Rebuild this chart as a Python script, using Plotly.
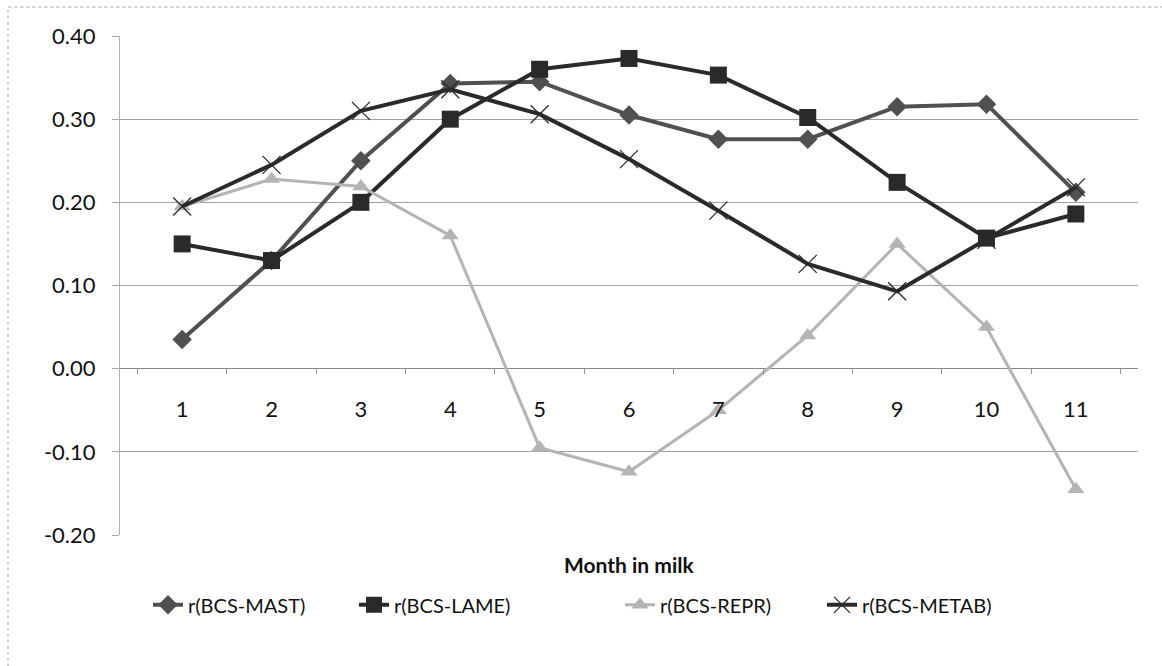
import plotly.graph_objects as go

months = ["1", "2", "3", "4", "5", "6", "7", "8", "9", "10", "11"]
mast = [0.035, 0.130, 0.250, 0.343, 0.345, 0.305, 0.276, 0.276, 0.315, 0.318, 0.212]
lame = [0.150, 0.130, 0.200, 0.300, 0.360, 0.373, 0.353, 0.302, 0.224, 0.157, 0.186]
repr_ = [0.195, 0.228, 0.219, 0.160, -0.095, -0.124, -0.050, 0.040, 0.150, 0.050, -0.145]
metab = [0.195, 0.245, 0.310, 0.336, 0.306, 0.252, 0.190, 0.126, 0.093, 0.155, 0.218]
names = ["r(BCS-MAST)", "r(BCS-LAME)", "r(BCS-REPR)", "r(BCS-METAB)"]
ytickvals = [-0.2, -0.1, 0.0, 0.1, 0.2, 0.3, 0.4]
yticktext = ["-0.20", "-0.10", "0.00", "0.10", "0.20", "0.30", "0.40"]

FONT = "Lato"
fig = go.Figure()
fig.add_trace(go.Scatter(x=months, y=mast, name=names[0], mode="lines+markers",
                         line=dict(color="#505050", width=4),
                         marker=dict(symbol="diamond", size=15, color="#505050"),
                         legend="legend"))
fig.add_trace(go.Scatter(x=months, y=lame, name=names[1], mode="lines+markers",
                         line=dict(color="#2a2a2a", width=4),
                         marker=dict(symbol="square", size=17, color="#2a2a2a"),
                         legend="legend2"))
fig.add_trace(go.Scatter(x=months, y=repr_, name=names[2], mode="lines+markers",
                         line=dict(color="#b4b4b4", width=3),
                         marker=dict(symbol="triangle-up", size=15, color="#b4b4b4"),
                         legend="legend3"))
fig.add_trace(go.Scatter(x=months, y=metab, name=names[3], mode="lines+markers",
                         line=dict(color="#2a2a2a", width=4),
                         marker=dict(symbol="x-thin", size=18,
                                     line=dict(color="#2a2a2a", width=1.3)),
                         legend="legend4"))

def leg(xpx):
    return dict(orientation="h", x=(xpx - 120) / 1018, xanchor="left", y=-0.14,
                yanchor="middle", font=dict(size=20, family=FONT, color="#111"),
                bgcolor="rgba(0,0,0,0)")

fig.update_layout(
    width=1162, height=666,
    margin=dict(l=120, r=24, t=36, b=131),
    paper_bgcolor="white", plot_bgcolor="white",
    font=dict(family=FONT, size=20, color="#111"),
    showlegend=True,
    legend=leg(148), legend2=leg(354), legend3=leg(620), legend4=leg(822),
    xaxis=dict(type="category", anchor="free", position=167/499,
               showgrid=False, showline=False, zeroline=False,
               ticks="outside", tickson="boundaries", ticklen=5, tickcolor="#999",
               ticklabelstandoff=26,
               tickfont=dict(size=22, family=FONT, color="#111")),
    yaxis=dict(range=[-0.2, 0.4], tickvals=ytickvals, ticktext=yticktext,
               showgrid=True, gridcolor="#a0a0a0", gridwidth=1,
               zeroline=True, zerolinecolor="#888", zerolinewidth=1,
               showline=True, linecolor="#b0b0b0", linewidth=1,
               ticks="outside", ticklen=7, tickcolor="#a8a8a8",
               ticklabelstandoff=12,
               tickfont=dict(size=22, family=FONT, color="#111")),
)
fig.add_annotation(text="<b>Month in milk</b>", xref="paper", yref="paper",
                   x=0.5, y=-0.06, xanchor="center", yanchor="middle",
                   showarrow=False, font=dict(size=21, family=FONT, color="#111"))
fig.add_shape(type="rect", xref="paper", yref="paper",
              x0=-112/1018, x1=1.1, y0=-0.3, y1=1 + 29/499,
              line=dict(color="#a0a0a0", width=1, dash="dot"), layer="below")
fig.write_html("out.html")
